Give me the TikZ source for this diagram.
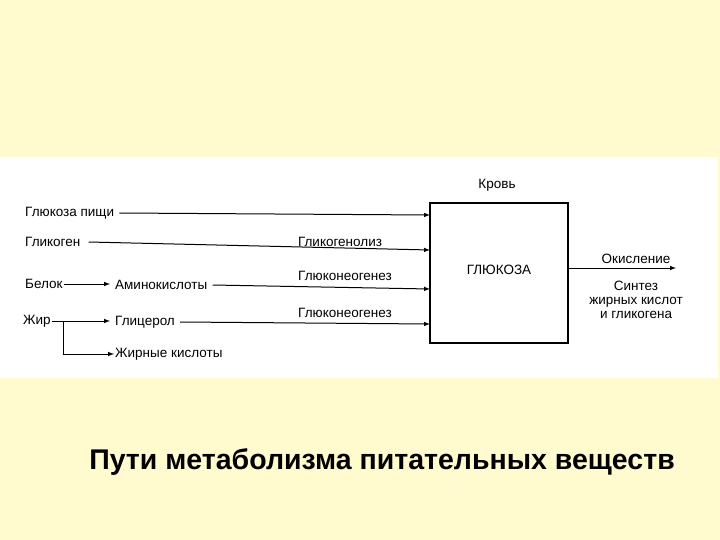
\documentclass[tikz,border=0pt]{standalone}
\usepackage{fontspec}
\setmainfont{Liberation Sans}
\definecolor{bg}{HTML}{FFFBCF}
\begin{document}
\begin{tikzpicture}[x=1pt,y=-1pt,
  lbl/.style={font=\fontsize{13.5}{14}\selectfont,inner sep=1pt},
  arr/.style={->,>=latex,line width=1pt}]
\fill[bg] (0,0) rectangle (720,540);
\useasboundingbox (0,0) rectangle (720,540);
\fill[white] (0,157) rectangle (718,378);
\draw[line width=1.8pt] (430,203) rectangle (568,343);
\node[lbl] (glu) at (499,270) {ГЛЮКОЗА};
\node[lbl] (krov) at (497,185) {Кровь};
\coordinate (i1) at (430,215);
\coordinate (i2) at (430,250);
\coordinate (i3) at (430,289);
\coordinate (i4) at (430,324);
\node[lbl,anchor=west,inner xsep=5pt] (gp) at (20,213) {Глюкоза пищи};
\node[lbl,anchor=west,inner xsep=8pt] (gk) at (17,242) {Гликоген};
\node[lbl,anchor=west] (bel) at (24,284) {Белок};
\node[lbl,anchor=west] (zhir) at (22,321) {Жир};
\node[lbl,anchor=west,inner xsep=5pt] (amino) at (110,285) {Аминокислоты};
\node[lbl,anchor=west,inner xsep=5pt] (glic) at (110,322) {Глицерол};
\node[lbl,anchor=west] (zk) at (114,354) {Жирные кислоты};
\node[lbl] at (340,242) {Гликогенолиз};
\node[lbl] at (345,276) {Глюконеогенез};
\node[lbl] at (345,313) {Глюконеогенез};
\draw[arr] (gp.east) -- (i1);
\draw[arr] (gk.east) -- (i2);
\draw[arr] (amino.east) -- (i3);
\draw[arr] (glic.east) -- (i4);
\draw[arr] (bel.east) -- (bel.east -| amino.west);
\draw[arr] (zhir.east) -- (zhir.east -| glic.west);
\coordinate (br) at (63,321);
\draw[arr] (br) |- (zk.west);
\coordinate (o1) at (568,268);
\coordinate (o2) at (676,268);
\draw[arr] (o1) -- (o2);
\node[lbl] at (636,259) {Окисление};
\node[lbl,align=center] at (636,300) {Синтез\\жирных кислот\\и гликогена};
\node[font=\bfseries\fontsize{28.5}{30}\selectfont] (cap) at (382,462) {Пути метаболизма питательных веществ};
\end{tikzpicture}
\end{document}
